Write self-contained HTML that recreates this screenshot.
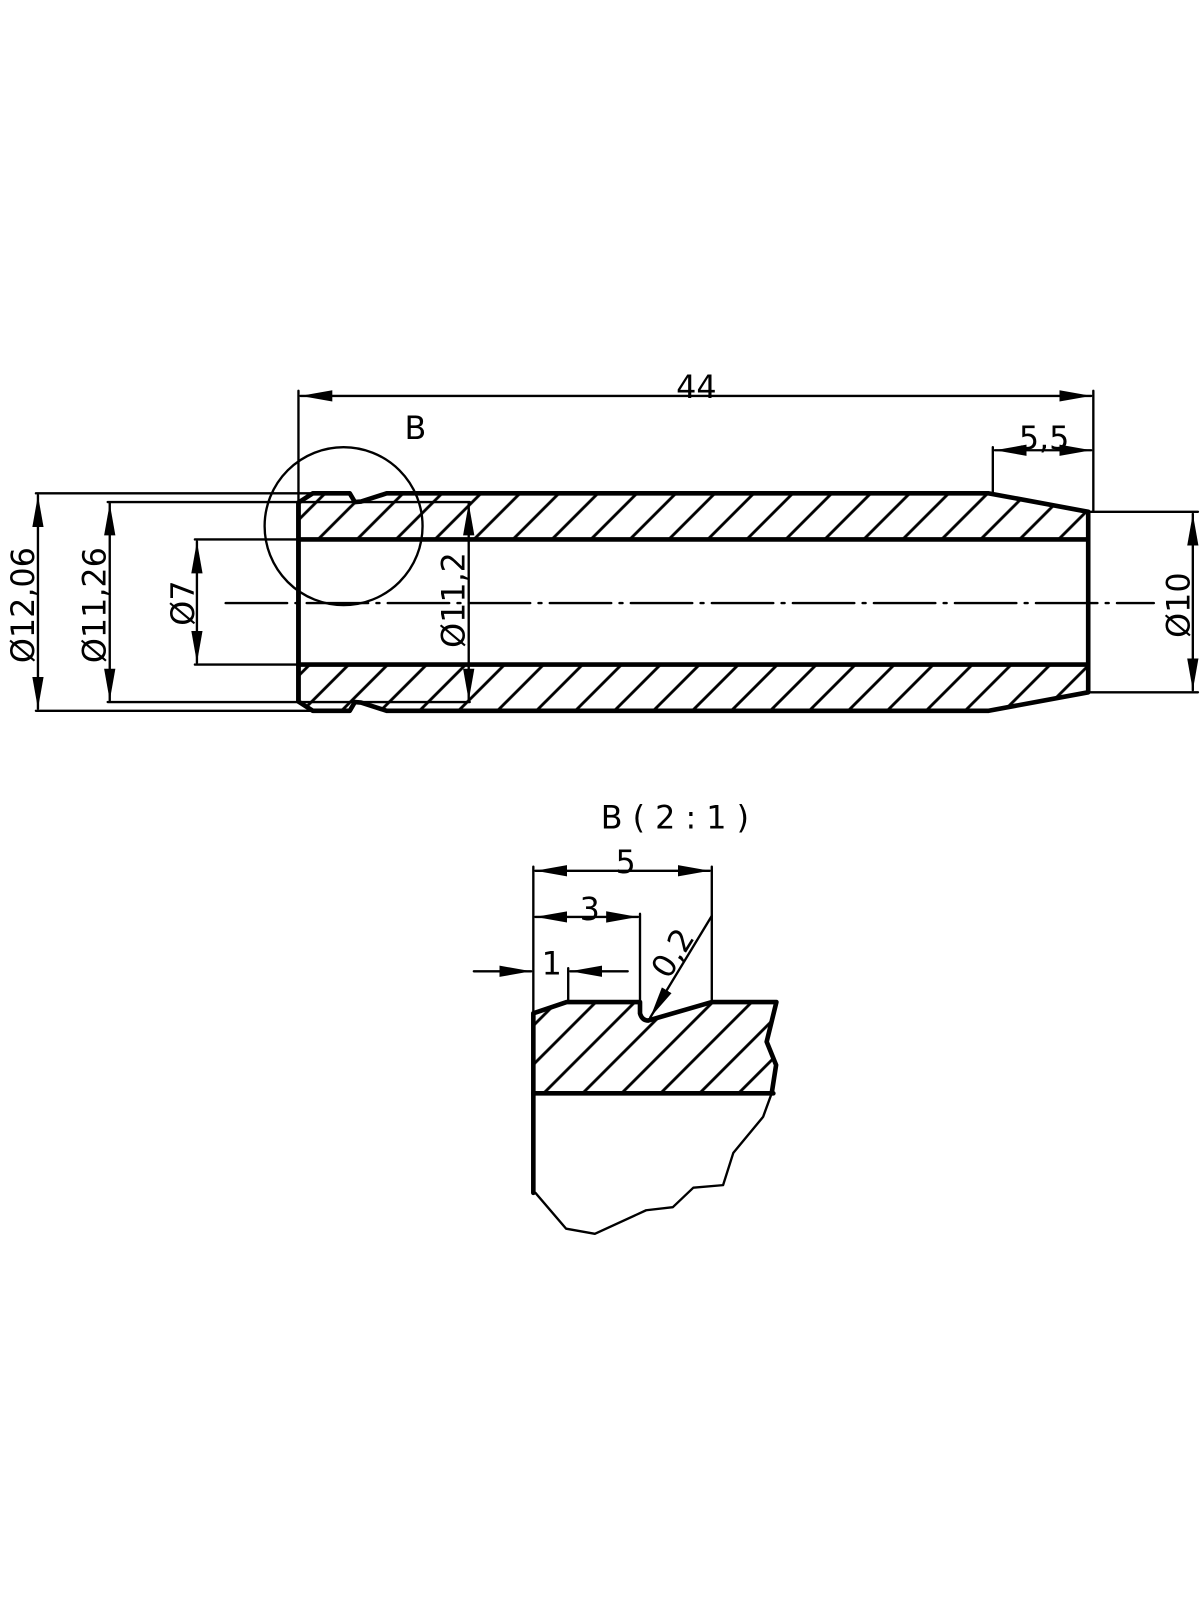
<!DOCTYPE html>
<html><head><meta charset="utf-8"><style>html,body{margin:0;padding:0;background:#fff}svg{display:block}</style></head>
<body>
<svg width="1200" height="1600" viewBox="0 0 1170 1560" xmlns="http://www.w3.org/2000/svg" font-family="'DejaVu Sans','Liberation Sans',sans-serif">
<defs>
<marker id="a" markerUnits="userSpaceOnUse" markerWidth="34" markerHeight="16" refX="31" refY="8" orient="auto-start-reverse"><path d="M0,2.5 L31,8 L0,13.5 Z" fill="#000"/></marker>
<pattern id="h" patternUnits="userSpaceOnUse" width="38" height="38"><path d="M-2,40 L40,-2 M-21,21 L21,-21 M17,59 L59,17" stroke="#000" stroke-width="2.8"/></pattern>
</defs>
<g fill="none" stroke="#000" stroke-linecap="round" stroke-linejoin="round">
<path d="M291,490 L305,481 L341,481 L346,489.5 L352,489 L377,481 L964,481 L1061,499 L1061,526 L291,526 Z" fill="url(#h)" stroke="none"/>
<path d="M291,684 L305,693 L341,693 L346,684.5 L352,685 L377,693 L964,693 L1061,675 L1061,648 L291,648 Z" fill="url(#h)" stroke="none"/>
<g stroke-width="4.5">
<path d="M291,490 L305,481 L341,481 L346,489.5 L352,489 L377,481 L964,481 L1061,499 L1061,675 L964,693 L377,693 L352,685 L346,684.5 L341,693 L305,693 L291,684 Z"/>
<path d="M291,490 L291,684"/>
<path d="M291,526 L1061,526 M291,648 L1061,648"/>
</g>
<g stroke-width="2.3">
<path d="M220,588 L1125,588" stroke-dasharray="60,8,3,8"/>
<circle cx="335" cy="513" r="77"/>
<path d="M35,481 L305,481 M35,693 L305,693"/>
<path d="M105,489.5 L458,489.5 M105,684.5 L458,684.5"/>
<path d="M190,526 L291,526 M190,648 L291,648"/>
<path d="M1061,499 L1168,499 M1061,675 L1168,675"/>
<path d="M291,381 L291,490 M1066,381 L1066,499 M968,436 L968,481"/>
<path d="M37,483 L37,691" marker-start="url(#a)" marker-end="url(#a)"/>
<path d="M107,491 L107,683" marker-start="url(#a)" marker-end="url(#a)"/>
<path d="M192,528 L192,646" marker-start="url(#a)" marker-end="url(#a)"/>
<path d="M457,491 L457,683" marker-start="url(#a)" marker-end="url(#a)"/>
<path d="M1163,501 L1163,673" marker-start="url(#a)" marker-end="url(#a)"/>
<path d="M293,386 L1064,386" marker-start="url(#a)" marker-end="url(#a)"/>
<path d="M970,439 L1064,439" marker-start="url(#a)" marker-end="url(#a)"/>
</g>
<path d="M520,988 L552.5,977 L624,977 L624,988 Q626,995 632,995 L694,977 L757,977 L747.5,1015.7 L756.7,1038.4 L752.4,1066 L520,1066 Z" fill="url(#h)" stroke="none"/>
<g stroke-width="4.5">
<path d="M520,1163 L520,988 L552.5,977 L624,977 L624,988 Q626,995 632,995 L694,977 L757,977 L747.5,1015.7 L756.7,1038.4 L752.4,1066"/>
<path d="M520,1066 L754,1066"/>
</g>
<g stroke-width="2.3">
<path d="M752.4,1066 L744,1089 L715,1124 L705,1155.5 L676,1158 L656,1177 L630,1180 L580,1203 L552,1198 L522,1163"/>
<path d="M520,845 L520,988 M694,845 L694,977 M624,891 L624,977 M554,944 L554,977"/>
<path d="M522,849 L692,849" marker-start="url(#a)" marker-end="url(#a)"/>
<path d="M522,894 L622,894" marker-start="url(#a)" marker-end="url(#a)"/>
<path d="M462,947 L518,947" marker-end="url(#a)"/>
<path d="M612,947 L556,947" marker-end="url(#a)"/>
<path d="M694,893 L634,992" marker-end="url(#a)"/>
</g>
</g>
<g fill="#000" font-size="31" text-anchor="middle">
<text x="679" y="388">44</text>
<text x="405" y="428">B</text>
<text x="1018" y="438">5,5</text>
<text transform="translate(33,590) rotate(-90)">Ø12,06</text>
<text transform="translate(103,590) rotate(-90)">Ø11,26</text>
<text transform="translate(189,588) rotate(-90)">Ø7</text>
<text transform="translate(453,585) rotate(-90)">Ø11,2</text>
<text transform="translate(1160,590) rotate(-90)">Ø10</text>
<text x="658" y="808">B ( 2 : 1 )</text>
<text x="610" y="851">5</text>
<text x="575" y="897">3</text>
<text x="538" y="950">1</text>
<text transform="translate(665,935) rotate(-58)">0,2</text>
</g>
</svg>
</body></html>
